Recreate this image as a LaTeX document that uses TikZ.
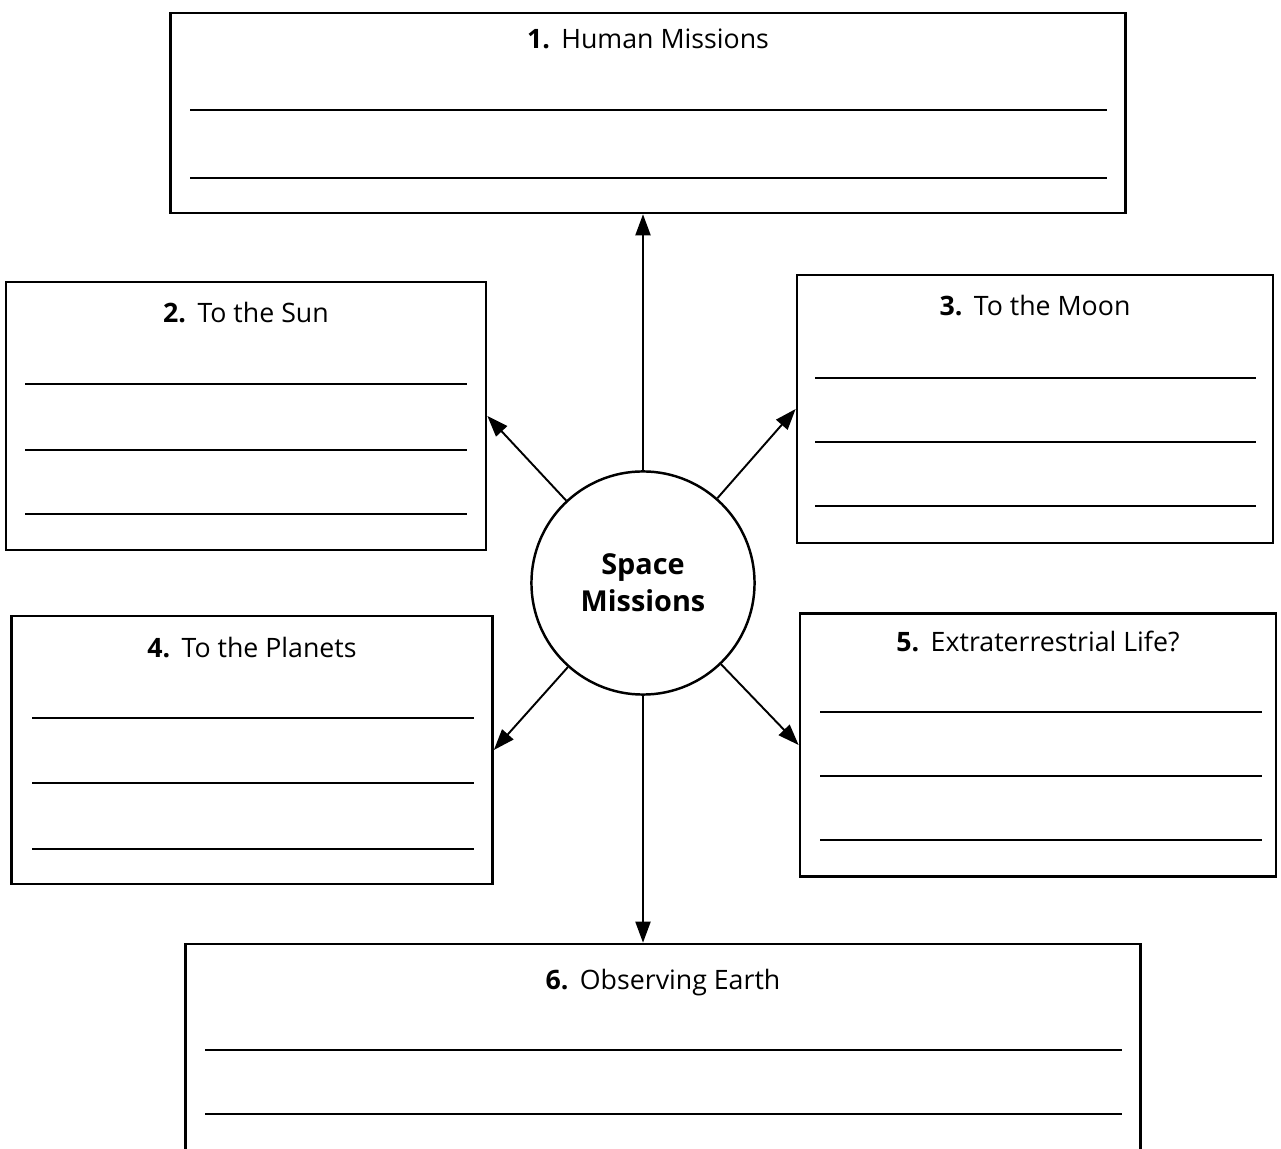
\documentclass[tikz,border=0pt]{standalone}
\usepackage{fontspec}
\setmainfont{Open Sans}
\usetikzlibrary{arrows.meta, positioning}
\tikzset{
x=0.01cm, y=-0.01cm, % one unit per pixel of the sheet, y going down
box/.style={draw, line width=0.7pt, inner sep=0pt}, % sets the properties of each answer box
title/.style 2 args={below=#2 of #1, inner sep=2pt, font=\fontsize{7.6}{9}\selectfont}, % heading inside a box
rule/.style={line width=0.45pt}, % writing lines
hub/.style={draw, circle, line width=0.7pt, minimum size=2.23cm, align=center, font=\bfseries\fontsize{8.2}{10.5}\selectfont},
spoke/.style={-{Triangle[length=2.1mm, width=1.5mm]}, line width=0.55pt}, % arrows out of the circle
}

\begin{document}
\begin{tikzpicture}
      \useasboundingbox (0,0) rectangle (1281,1149);

      \node[hub] (space) at (643,583) {Space\\Missions};

      \node[box, minimum width=9.54cm, minimum height=2.00cm] (human) at (648,113) {};
      \node[box, minimum width=4.80cm, minimum height=2.68cm] (sun) at (246,416) {};
      \node[box, minimum width=4.76cm, minimum height=2.68cm] (moon) at (1035,409) {};
      \node[box, minimum width=4.81cm, minimum height=2.68cm] (planets) at (252,750) {};
      \node[box, minimum width=4.76cm, minimum height=2.63cm] (life) at (1038,745) {};
      \node[box, minimum width=9.54cm, minimum height=2.30cm] (earth) at (663,1059) {};

      \node[title={human.north}{0.09cm}] (t1) {\textbf{1.}\ \,Human Missions};
      \node[title={sun.north}{0.14cm}] (t2) {\textbf{2.}\ \,To the Sun};
      \node[title={moon.north}{0.14cm}] (t3) {\textbf{3.}\ \,To the Moon};
      \node[title={planets.north}{0.15cm}] (t4) {\textbf{4.}\ \,To the Planets};
      \node[title={life.north}{0.11cm}] (t5) {\textbf{5.}\ \,Extraterrestrial Life?};
      \node[title={earth.north}{0.19cm}] (t6) {\textbf{6.}\ \,Observing Earth};

      % writing lines
      \foreach \y in {110,178} \draw[rule] (190,\y) -- (1107,\y);
      \foreach \y in {384,450,514} \draw[rule] (25,\y) -- (467,\y);
      \foreach \y in {378,442,506} \draw[rule] (815,\y) -- (1256,\y);
      \foreach \y in {718,783,849} \draw[rule] (32,\y) -- (474,\y);
      \foreach \y in {712,776,840} \draw[rule] (820,\y) -- (1262,\y);
      \foreach \y in {1050,1114} \draw[rule] (205,\y) -- (1122,\y);

      \draw[spoke] (space) -- (space |- human.south);
      \draw[spoke] (space) -- (sun.east);
      \draw[spoke] (space) -- (moon.west);
      \draw[spoke] (space) -- (planets.east);
      \draw[spoke] (space) -- (life.west);
      \draw[spoke] (space) -- (space |- earth.north);
    \end{tikzpicture}
\end{document}
